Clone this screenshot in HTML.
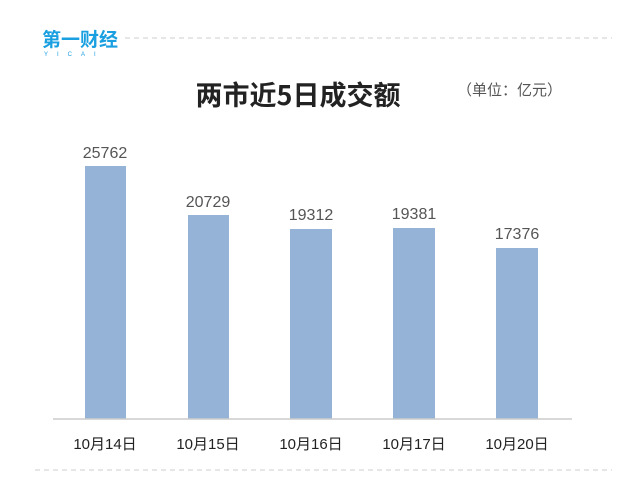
<html><body style="margin:0;width:640px;height:486px;background:#fff;position:relative;overflow:hidden;font-family:'Liberation Sans','Noto Sans CJK SC',sans-serif">
<svg width="640" height="486" style="position:absolute;left:0;top:0">
<text x="42" y="46" font-size="19" font-weight="bold" fill="#1a9fe0" font-family="'Noto Sans CJK SC',sans-serif">第一财经</text>
<text x="44" y="56" font-size="6" fill="#1a9fe0" letter-spacing="9">YICAI</text>
<line x1="125" y1="38" x2="612" y2="38" stroke="#ccc" stroke-dasharray="5,4"/>
<line x1="35" y1="470" x2="612" y2="470" stroke="#ccc" stroke-dasharray="5,4"/>
<text x="298" y="105" font-size="27" font-weight="bold" text-anchor="middle" fill="#222" font-family="'Noto Sans CJK SC',sans-serif">两市近5日成交额</text>
<text x="457" y="95" font-size="15" fill="#555" font-family="'Noto Sans CJK SC',sans-serif">（单位：亿元）</text>
<g fill="#95b3d7">
<rect x="85" y="166" width="41" height="253"/>
<rect x="188" y="215" width="41" height="204"/>
<rect x="290" y="229" width="42" height="190"/>
<rect x="393" y="228" width="42" height="191"/>
<rect x="496" y="248" width="42" height="171"/>
</g>
<line x1="53" y1="419" x2="572" y2="419" stroke="#ccc" stroke-width="1.5"/>
<g font-size="16" fill="#555" text-anchor="middle">
<text x="105" y="158">25762</text><text x="208" y="207">20729</text><text x="311" y="220">19312</text><text x="414" y="219">19381</text><text x="517" y="239">17376</text>
</g>
<g font-size="15" fill="#222" text-anchor="middle" font-family="'Liberation Sans','Noto Sans CJK SC',sans-serif">
<text x="105" y="449">10月14日</text><text x="208" y="449">10月15日</text><text x="311" y="449">10月16日</text><text x="414" y="449">10月17日</text><text x="517" y="449">10月20日</text>
</g>
</svg>
</body></html>
